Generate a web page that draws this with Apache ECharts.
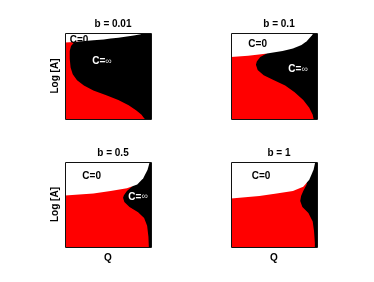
<!DOCTYPE html>
<html><head><meta charset="utf-8">
<script src="https://cdn.jsdelivr.net/npm/echarts@6/dist/echarts.min.js"></script>
<style>html,body{margin:0;padding:0;background:#fff}#c{width:374px;height:282px}</style>
</head><body><div id="c"></div>
<script>
const titles = ['b = 0.01', 'b = 0.1', 'b = 0.5', 'b = 1'];
const xName = 'Q';
const yName = 'Log [A]';
// boundary between C=0 (white, above) and the rest: [Q, logA]
const top1 = [[0,0.89],[0.1,0.895],[0.2,0.905],[0.33,0.915],[0.45,0.925],[0.53,0.935],[0.62,0.945],[0.72,0.96],[0.8,0.97],[0.88,0.985],[0.92,1.0]];
const top2 = [[0,0.72],[0.2,0.735],[0.4,0.76],[0.6,0.79],[0.72,0.82],[0.82,0.86],[0.88,0.905],[0.94,0.97],[0.96,1.0]];
const top3 = [[0,0.607],[0.33,0.63],[0.53,0.66],[0.72,0.69],[0.84,0.735],[0.91,0.81],[0.96,0.91],[0.985,1.0]];
const top4 = [[0,0.57],[0.33,0.60],[0.53,0.63],[0.72,0.66],[0.84,0.71],[0.91,0.79],[0.96,0.91],[0.98,1.0]];
// left boundary of the C=inf (black) region, top to bottom: [Q, logA]
const inf1 = [[0.16,0.905],[0.1,0.885],[0.07,0.85],[0.055,0.79],[0.055,0.70],[0.065,0.6],[0.09,0.52],[0.14,0.45],[0.22,0.39],[0.33,0.33],[0.48,0.275],[0.62,0.22],[0.74,0.16],[0.83,0.1],[0.89,0.05],[0.92,0.01],[0.93,0]];
const inf2 = [[0.42,0.765],[0.34,0.72],[0.30,0.67],[0.29,0.63],[0.31,0.57],[0.38,0.51],[0.5,0.45],[0.63,0.39],[0.74,0.31],[0.84,0.22],[0.91,0.13],[0.95,0.05],[0.96,0]];
const inf3 = [[0.79,0.72],[0.72,0.66],[0.685,0.61],[0.675,0.58],[0.69,0.53],[0.75,0.47],[0.85,0.41],[0.92,0.34],[0.955,0.25],[0.97,0.12],[0.975,0]];
const inf4 = [[0.88,0.735],[0.84,0.66],[0.815,0.6],[0.805,0.54],[0.83,0.47],[0.9,0.4],[0.95,0.3],[0.965,0.19],[0.975,0.05],[0.975,0]];
const zeroLabelPos = [[0.163,0.91],[0.31,0.864],[0.31,0.827],[0.35,0.827]];
const infLabelPos = [[0.43,0.67],[0.78,0.573],[0.85,0.59],null];

const tops = [top1, top2, top3, top4];
const infs = [inf1, inf2, inf3, inf4];
const grids = [
  {left: 65, top: 33, width: 86, height: 86},
  {left: 231, top: 33, width: 86, height: 86},
  {left: 65, top: 162, width: 86, height: 85},
  {left: 231, top: 162, width: 86, height: 85}
];
const FONT = '"Liberation Sans", Arial, sans-serif';
const XMIN = 0, XMAX = 1, YMIN = 0, YMAX = 1;

function makeRender(i) {
  return function (params, api) {
    const c = p => api.coord(p);
    const t = tops[i], f = infs[i];
    const redPts = [c([XMIN,YMIN]), c([XMAX,YMIN]), c([XMAX,YMAX]), c([XMIN,YMAX])];
    const blackPts = f.map(c).concat([c([XMAX,YMIN]), c([XMAX,YMAX]), c([f[0][0],YMAX])]);
    const whitePts = t.map(c).concat([c([XMIN,YMAX])]);
    const p0 = c([XMIN,YMAX]), p1 = c([XMAX,YMIN]);
    const children = [
      {type:'polygon', shape:{points:redPts}, style:{fill:'#ff0000'}},
      {type:'polygon', shape:{points:blackPts}, style:{fill:'#000000'}},
      {type:'polygon', shape:{points:whitePts}, style:{fill:'#ffffff'}},
      {type:'rect', shape:{x:Math.round(p0[0])+0.5, y:Math.round(p0[1])+0.5, width:Math.round(p1[0]-p0[0]), height:Math.round(p1[1]-p0[1])}, style:{fill:null, stroke:'#111', lineWidth:1}}
    ];
    const zp = c(zeroLabelPos[i]);
    children.push({type:'text', x:zp[0], y:zp[1], style:{text:'C=0', fill:'#000', font:'bold 10px ' + FONT, align:'center', verticalAlign:'middle'}});
    if (infLabelPos[i]) {
      const ip = c(infLabelPos[i]);
      children.push({type:'text', x:ip[0], y:ip[1], style:{
        text:'{a|C=}{b|∞}', fill:'#fff', align:'center', verticalAlign:'middle',
        rich:{a:{fill:'#fff', font:'bold 10px ' + FONT}, b:{fill:'#ddd', font:'9px ' + FONT}}
      }});
    }
    return {type:'group', children};
  };
}

const option = {
  animation: false,
  backgroundColor: '#fff',
  title: grids.map((g, i) => ({
    text: titles[i], left: g.left + g.width / 2, top: g.top - 19, textAlign: 'center',
    textStyle: {fontSize: 10, fontWeight: 'bold', fontFamily: FONT, color: '#000'}
  })),
  grid: grids,
  xAxis: grids.map((g, i) => ({
    gridIndex: i, type: 'value', min: XMIN, max: XMAX,
    name: i >= 2 ? xName : '', nameLocation: 'middle', nameGap: 6,
    nameTextStyle: {fontSize: 10, fontWeight: 'bold', fontFamily: FONT, color: '#000', verticalAlign: 'top'},
    axisLine: {show: false}, axisTick: {show: false}, axisLabel: {show: false}, splitLine: {show: false}
  })),
  yAxis: grids.map((g, i) => ({
    gridIndex: i, type: 'value', min: YMIN, max: YMAX,
    name: i % 2 === 0 ? yName : '', nameLocation: 'middle', nameGap: 5,
    nameTextStyle: {fontSize: 10, fontWeight: 'bold', fontFamily: FONT, color: '#000'},
    axisLine: {show: false}, axisTick: {show: false}, axisLabel: {show: false}, splitLine: {show: false}
  })),
  series: grids.map((g, i) => ({
    type: 'custom', xAxisIndex: i, yAxisIndex: i, clip: false,
    data: [[XMIN, YMIN]], renderItem: makeRender(i), silent: true
  }))
};
const chart = echarts.init(document.getElementById('c'), null, {renderer: 'canvas'});
chart.setOption(option);
</script></body></html>
